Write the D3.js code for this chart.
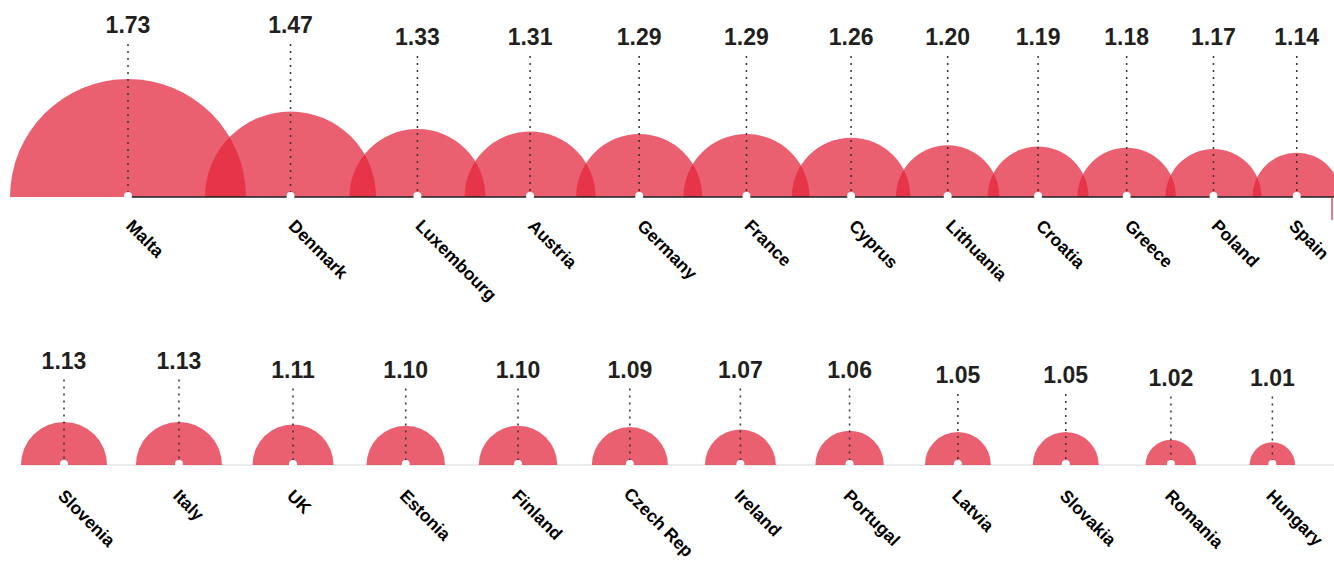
<!DOCTYPE html>
<html>
<head>
<meta charset="utf-8">
<script src="https://cdn.jsdelivr.net/npm/d3@7"></script>
<style>
  html, body { margin: 0; padding: 0; background: #ffffff; }
  svg { display: block; }
  text { font-family: "Liberation Sans", Arial, Helvetica, sans-serif; font-weight: bold; }
</style>
</head>
<body>
<svg id="chart" width="1334" height="562"></svg>
<script>
// ---- Data ----
const countriesTop = ["Malta","Denmark","Luxembourg","Austria","Germany","France","Cyprus","Lithuania","Croatia","Greece","Poland","Spain"];
const valuesTop    = [1.73, 1.47, 1.33, 1.31, 1.29, 1.29, 1.26, 1.20, 1.19, 1.18, 1.17, 1.14];
const countriesBottom = ["Slovenia","Italy","UK","Estonia","Finland","Czech Rep","Ireland","Portugal","Latvia","Slovakia","Romania","Hungary"];
const valuesBottom    = [1.13, 1.13, 1.11, 1.10, 1.10, 1.09, 1.07, 1.06, 1.05, 1.05, 1.02, 1.01];

// ---- Styles / layout ----
const W = 1334, H = 562;
const fillColor = "rgb(227,34,58)";
const fillOpacity = 0.72;
const textDark = "#231f20";

const svg = d3.select("#chart");

// radius scale (value -> semicircle radius)
const r = d3.scaleLinear().domain([1.01, 1.05, 1.73]).range([22.7, 33, 118]);

const rows = [
  {
    names: countriesTop, values: valuesTop,
    baseline: 197, left: 10, gapA: 17.5, gapB: 0.7127,
    labelLift: d3.scaleThreshold().domain([1.4]).range([152, 164]),
    lineColor: textDark, lineFromFirstCenter: true,
    nameDx: -3, nameDy: 30
  },
  {
    names: countriesBottom, values: valuesBottom,
    baseline: 465, left: 21, gapA: 84.5, gapB: 0.354,
    labelLift: d3.scaleThreshold().domain([1.03, 1.06, 1.13]).range([79.5, 82, 87.5, 96.5]),
    lineColor: "#e6e6e6", lineFromFirstCenter: false,
    nameDx: -7, nameDy: 32
  }
];

const arc = d3.arc().innerRadius(0).startAngle(-Math.PI / 2).endAngle(Math.PI / 2);

rows.forEach((row, ri) => {
  const data = row.values.map((v, i) => ({ name: row.names[i], value: v, r: r(v) }));
  // pack centres along the row, spacing from neighbouring radii
  data.forEach((d, i) => {
    if (i === 0) d.x = row.left + d.r;
    else d.x = data[i - 1].x + row.gapA + row.gapB * (data[i - 1].r + d.r);
  });

  const g = svg.append("g").attr("class", "row" + ri);
  const y0 = row.baseline;

  // light baseline (bottom row) goes behind the shapes
  if (!row.lineFromFirstCenter) {
    g.append("line")
      .attr("x1", data[0].x - data[0].r).attr("x2", W)
      .attr("y1", y0).attr("y2", y0)
      .attr("stroke", row.lineColor).attr("stroke-width", 1.5);
  }

  g.selectAll("path.semi").data(data).join("path")
    .attr("class", "semi")
    .attr("transform", d => `translate(${d.x},${y0})`)
    .attr("d", d => arc({ outerRadius: d.r }))
    .attr("fill", fillColor)
    .attr("fill-opacity", fillOpacity);

  if (row.lineFromFirstCenter) {
    g.append("line")
      .attr("x1", data[0].x).attr("x2", W)
      .attr("y1", y0).attr("y2", y0)
      .attr("stroke", row.lineColor).attr("stroke-width", 1.6);
    g.append("line")
      .attr("x1", W - 2).attr("x2", W - 2)
      .attr("y1", y0).attr("y2", y0 + 23)
      .attr("stroke", fillColor).attr("stroke-opacity", 0.8).attr("stroke-width", 1.5);
  }

  // dotted leader lines
  g.selectAll("line.lead").data(data).join("line")
    .attr("class", "lead")
    .attr("x1", d => d.x).attr("x2", d => d.x)
    .attr("y1", d => y0 - row.labelLift(d.value) + 11)
    .attr("y2", y0 - 2)
    .attr("stroke", "#333333")
    .attr("stroke-width", 1.5)
    .attr("stroke-dasharray", "2,5");

  // white centre dots
  g.selectAll("circle.dot").data(data).join("circle")
    .attr("class", "dot")
    .attr("cx", d => d.x).attr("cy", y0 - 1)
    .attr("r", 4)
    .attr("fill", "#ffffff");

  // value labels
  g.selectAll("text.val").data(data).join("text")
    .attr("class", "val")
    .attr("x", d => d.x)
    .attr("y", d => y0 - row.labelLift(d.value))
    .attr("text-anchor", "middle")
    .attr("font-size", 23)
    .attr("fill", textDark)
    .text(d => d3.format(".2f")(d.value));

  // country labels, rotated
  g.selectAll("text.name").data(data).join("text")
    .attr("class", "name")
    .attr("transform", d => `translate(${d.x + row.nameDx},${y0 + row.nameDy}) rotate(45)`)
    .attr("font-size", 17.5)
    .attr("fill", "#000000")
    .text(d => d.name)
    .each(function(d) {
      // keep labels inside the right and bottom edges
      const b = this.getBoundingClientRect();
      const svgB = svg.node().getBoundingClientRect();
      const overX = Math.max(0, (b.right - svgB.left) - (W - 1));
      const overY = Math.max(0, (b.bottom - svgB.top) - (H - 1));
      if (overX > 0 || overY > 0) {
        d3.select(this).attr("transform",
          `translate(${d.x + row.nameDx - overX},${y0 + row.nameDy - overY}) rotate(45)`);
      }
    });
});
</script>
</body>
</html>
